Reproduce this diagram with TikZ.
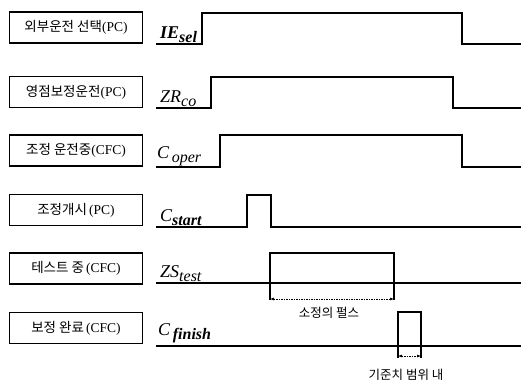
\documentclass[tikz,border=0pt]{standalone}
\usepackage{fontspec}
\setmainfont{Liberation Serif}
\newfontfamily\kr{Noto Sans CJK KR}
\usetikzlibrary{arrows.meta}
\newcommand{\sigl}[3]{{\fontsize{18}{18}\selectfont #1}\raisebox{-4pt}{\fontsize{16}{16}\selectfont #2}#3}
\begin{document}
\begin{tikzpicture}[x=1pt,y=-1pt,
  lbl/.style={draw,line width=1.8pt,minimum width=133pt,minimum height=31pt,inner sep=0pt,font=\fontsize{13.5}{14}\selectfont},
  sig/.style={line width=1.4pt},
  sname/.style={anchor=base west,inner sep=0pt,font=\itshape},
  meas/.style={line width=0.6pt,dash pattern=on 1.5pt off 1pt,{Latex[length=4pt,width=3pt]}-{Latex[length=4pt,width=3pt]}},
  note/.style={font=\kr\fontsize{12.5}{13}\selectfont,inner sep=0pt}]
\useasboundingbox (0,0) rectangle (521,383);
% label boxes
\node[lbl] (b1) at (76,27.5) {{\kr 외부운전 선택}(PC)};
\node[lbl] (b2) at (76,92) {{\kr 영점보정운전}(PC)};
\node[lbl] (b3) at (76,150.5) {{\kr 조정 운전중}(CFC)};
\node[lbl] (b4) at (76,210) {{\kr 조정개시}\,(PC)};
\node[lbl] (b5) at (76,268.5) {{\kr 테스트 중}\,(CFC)};
\node[lbl] (b6) at (76,328) {{\kr 보정 완료}\,(CFC)};
% signal names
\node[sname] (n1) at (160,38) {\bfseries\sigl{IE}{sel}{}};
\node[sname] (n2) at (160,102) {\sigl{ZR}{co}{}};
\node[sname] (n3) at (157,158) {\sigl{C}{\,oper}{}};
\node[sname] (n4) at (160,221) {\sigl{C}{\bfseries start}{}};
\node[sname] (n5) at (160,277) {\sigl{ZS}{test}{}};
\node[sname] (n6) at (158,335) {\sigl{C}{\,\bfseries finish}{}};
% waveforms
\draw[sig] (156,44) -- (202,44) -- (202,13) -- (462,13) -- (462,44) -- (521,44);
\draw[sig] (156,108) -- (211,108) -- (211,77) -- (453,77) -- (453,108) -- (521,108);
\draw[sig] (156,167) -- (220,167) -- (220,135) -- (462,135) -- (462,167) -- (521,167);
\draw[sig] (156,227) -- (247,227) -- (247,195) -- (271,195) -- (271,227) -- (521,227);
\draw[sig] (156,283) -- (521,283);
\draw[sig] (270,300) -- (270,253) -- (394,253) -- (394,300);
\draw[sig] (156,346) -- (521,346);
\draw[sig] (398,358) -- (398,312) -- (421,312) -- (421,358);
% measurements
\coordinate (m1a) at (270,299);
\coordinate (m1b) at (394,299);
\draw[meas] (m1a) -- (m1b);
\node[note] (t1) at (329,313) {소정의 펄스};
\coordinate (m2a) at (398,356);
\coordinate (m2b) at (421,356);
\draw[meas] (m2a) -- (m2b);
\node[note] (t2) at (406,375) {기준치 범위 내};
\end{tikzpicture}
\end{document}
